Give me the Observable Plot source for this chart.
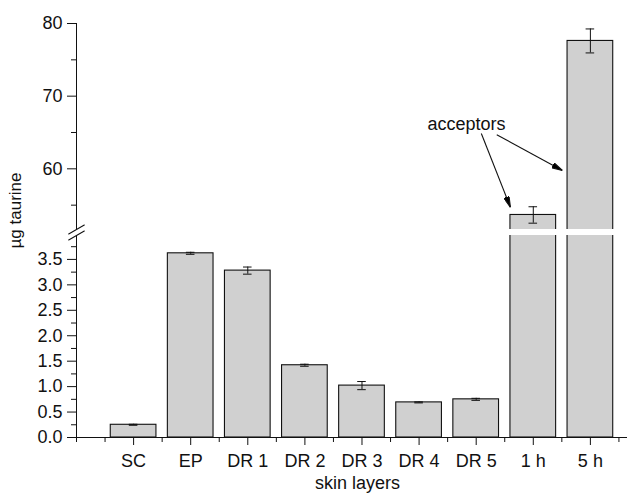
<!DOCTYPE html>
<html><head><meta charset="utf-8">
<script src="https://cdn.jsdelivr.net/npm/d3@7"></script>
<script src="https://cdn.jsdelivr.net/npm/@observablehq/plot@0.6"></script>
<style>html,body{margin:0;padding:0;background:#fff;} #chart svg{display:block;}</style>
</head><body><div id="chart"></div>
<script>
// ---- data ----
const categories = ["SC", "EP", "DR 1", "DR 2", "DR 3", "DR 4", "DR 5", "1 h", "5 h"];
const values = [0.25, 3.62, 3.28, 1.42, 1.02, 0.69, 0.75, 53.65, 77.6];
const errors = [0.01, 0.02, 0.07, 0.02, 0.08, 0.01, 0.02, 1.13, 1.65];
const lowerTicks = [0, 0.5, 1, 1.5, 2, 2.5, 3, 3.5];
const lowerMinor = [0.25, 0.75, 1.25, 1.75, 2.25, 2.75, 3.25, 3.75];
const upperTicks = [60, 70, 80];
const upperMinor = [55, 65, 75];
const breakValues = [3.97, 51.65];          // lower top / upper bottom of the broken axis
const annotationLabel = ["acceptors"];
const annotationPos = [{x: 6.83, y: 66.1}];
const arrowFrom = [{x: 7.09, y: 64.86}, {x: 7.36, y: 64.7}];
const arrowTo = [{x: 7.6, y: 54.7}, {x: 8.51, y: 59.77}];

const table = categories.map((c, i) => ({cat: c, pos: i + 1, value: values[i], err: errors[i]}));
const arrows = arrowFrom.map((f, i) => ({x1: f.x, y1: f.y, x2: arrowTo[i].x, y2: arrowTo[i].y}));
const xMax = 9.65;
const ns = "http://www.w3.org/2000/svg";

const arrowHead = (color, context) => {
  const doc = (context && context.document) || document;
  const m = doc.createElementNS(ns, "marker");
  m.setAttribute("viewBox", "-11 -3 11 6");
  m.setAttribute("markerWidth", 11);
  m.setAttribute("markerHeight", 6);
  m.setAttribute("markerUnits", "userSpaceOnUse");
  m.setAttribute("refX", 0);
  m.setAttribute("refY", 0);
  m.setAttribute("orient", "auto");
  const p = doc.createElementNS(ns, "path");
  p.setAttribute("d", "M-11,-2.8L0,0L-11,2.8Z");
  p.setAttribute("fill", "black");
  m.appendChild(p);
  return m;
};

const slash = {draw(ctx, l) { ctx.moveTo(0, 0); ctx.lineTo(0, -l); }};

const chart = Plot.plot({
  width: 640,
  height: 495,
  marginTop: 23,
  marginRight: 13,
  marginBottom: 58,
  marginLeft: 76,
  style: {fontFamily: "'Liberation Sans', Arial, Helvetica, sans-serif", fontSize: "18px", background: "white", color: "#111"},
  x: {type: "linear", domain: [0, xMax]},
  y: {type: "linear", domain: [0, breakValues[0], breakValues[1], 80], range: [437, 235, 229, 23]},
  marks: [
    Plot.rect(table, {x1: d => d.pos - 0.4, x2: d => d.pos + 0.4, y1: 0, y2: "value", fill: "#d0d0d0", stroke: "#111", strokeWidth: 1.1}),
    Plot.ruleX(table, {x: "pos", y1: d => d.value - d.err, y2: d => d.value + d.err, stroke: "#111"}),
    Plot.ruleY(table, {y: d => d.value + d.err, x1: d => d.pos - 0.075, x2: d => d.pos + 0.075, stroke: "#111"}),
    Plot.ruleY(table, {y: d => d.value - d.err, x1: d => d.pos - 0.075, x2: d => d.pos + 0.075, stroke: "#111"}),
    // white gap of the broken axis
    Plot.rect([0], {x1: 0, x2: xMax, y1: breakValues[0], y2: breakValues[1], fill: "white"}),
    // axis lines
    Plot.ruleX([0], {y1: 0, y2: breakValues[0], stroke: "#111"}),
    Plot.ruleX([0], {y1: breakValues[1], y2: 80, stroke: "#111"}),
    Plot.ruleY([0], {x1: 0, x2: xMax, stroke: "#111"}),
    // y ticks
    Plot.axisY(lowerTicks, {anchor: "left", tickSize: 9, tickPadding: 5, tickFormat: d3.format(".1f"), fontSize: 18, label: null}),
    Plot.axisY(upperTicks, {anchor: "left", tickSize: 9, tickPadding: 5, tickFormat: d3.format("d"), fontSize: 18, label: null}),
    Plot.axisY(lowerMinor.concat(upperMinor), {anchor: "left", tickSize: 5, tickFormat: () => "", label: null}),
    // x ticks
    Plot.axisX(table.map(d => d.pos), {anchor: "bottom", tickSize: 8, tickPadding: 9, tickFormat: p => categories[p - 1], fontSize: 18, label: null}),
    Plot.axisX(d3.range(0, 10, 0.5).filter(v => v % 1 !== 0 || v === 0), {anchor: "bottom", tickSize: 5, tickFormat: () => "", label: null}),
    // break marks
    Plot.vector(breakValues, {x: 0, y: d => d, length: 18, rotate: 60, anchor: "middle", shape: slash, stroke: "#111", strokeWidth: 1.1}),
    // annotation
    Plot.text(annotationLabel, {x: (d, i) => annotationPos[i].x, y: (d, i) => annotationPos[i].y, text: d => d, fontSize: 18, lineAnchor: "middle"}),
    Plot.link(arrows, {x1: "x1", y1: "y1", x2: "x2", y2: "y2", stroke: "#111", strokeWidth: 1.1, markerEnd: arrowHead}),
    // axis titles
    Plot.text(["skin layers"], {frameAnchor: "bottom", lineAnchor: "bottom", dy: 51, dx: 5.5, fontSize: 18}),
    Plot.text(["µg taurine"], {frameAnchor: "left", rotate: -90, lineAnchor: "bottom", textAnchor: "middle", dx: -56, dy: -20, fontSize: 17})
  ]
});
document.getElementById("chart").appendChild(chart);
</script>
</body></html>
